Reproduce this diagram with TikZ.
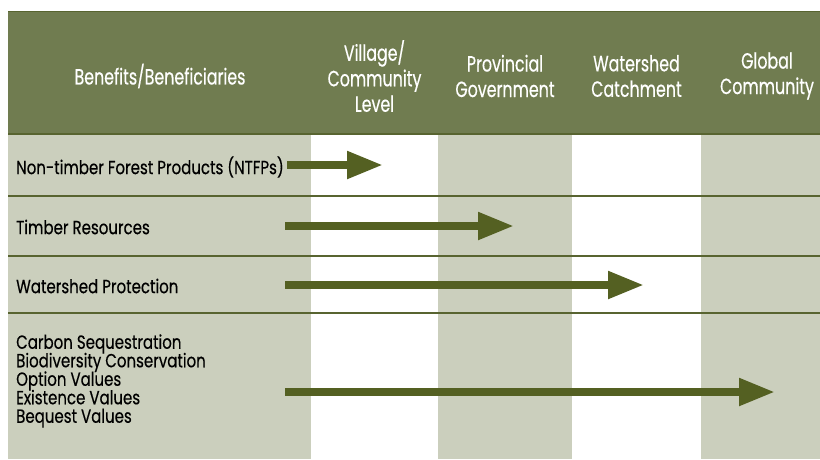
\documentclass[tikz,border=0pt]{standalone}
\usepackage{fontspec}
\setmainfont{Poppins}[FakeStretch=0.72,FakeBold=0.4]
\newfontfamily\rowface{Poppins}[FakeStretch=0.79,FakeBold=0.4]
\usetikzlibrary{arrows.meta}
\definecolor{headgreen}{RGB}{112,124,80}
\definecolor{rulegreen}{RGB}{88,100,48}
\definecolor{cellgray}{RGB}{203,207,189}
\definecolor{arrowgreen}{RGB}{84,96,34}
\newcommand\headfont{\fontsize{22}{25.5}\selectfont\setlength{\lineskiplimit}{-20pt}}
\newcommand\rowfont{\rowface\fontsize{19}{18.5}\selectfont\setlength{\lineskiplimit}{-20pt}}

\begin{document}
\begin{tikzpicture}[x=1pt,y=-1pt,
  headtext/.style={text=white,align=center,inner sep=0pt,font=\headfont},
  rowtext/.style={anchor=west,align=left,inner sep=0pt,font=\rowfont},
  rowline/.style={draw=rulegreen,line width=1.3pt},
  benefit/.style={draw=arrowgreen,line width=8pt,-{Triangle[length=36pt,width=26pt]}}]
\useasboundingbox (0,0) rectangle (820,459);
\fill[headgreen] (8,11) rectangle (820,134);
\fill[cellgray] (8,134) rectangle (311,459);
\fill[cellgray] (438,134) rectangle (572,459);
\fill[cellgray] (701,134) rectangle (820,459);
\coordinate (l0) at (8,11.5); \coordinate (r0) at (820,11.5);
\coordinate (l1) at (8,134); \coordinate (r1) at (820,134);
\coordinate (l2) at (8,196); \coordinate (r2) at (820,196);
\coordinate (l3) at (8,256); \coordinate (r3) at (820,256);
\coordinate (l4) at (8,313); \coordinate (r4) at (820,313);
\draw[rowline] (l0) -- (r0);
\draw[rowline] (l1) -- (r1);
\draw[rowline] (l2) -- (r2);
\draw[rowline] (l3) -- (r3);
\draw[rowline] (l4) -- (r4);
\node (bene) at (160,76) [headtext] {Benefits/Beneficiaries};
\node (village) at (374.5,76) [headtext] {Village/\\Community\\Level};
\node (prov) at (505,76) [headtext] {Provincial\\Government};
\node (shed) at (636.5,76) [headtext] {Watershed\\Catchment};
\node (global) at (767,76) [headtext] {Global\\Community};
\node (ntfp) at (16,167) [rowtext] {Non-timber Forest Products (NTFPs)};
\node (timber) at (16,227) [rowtext] {Timber Resources};
\node (water) at (16,286) [rowtext] {Watershed Protection};
\node (carbon) at (16,381) [rowtext] {Carbon Sequestration\\Biodiversity Conservation\\Option Values\\Existence Values\\Bequest Values};
\coordinate (s1) at (287,165); \coordinate (t1) at (383,165);
\coordinate (s2) at (285,226); \coordinate (t2) at (514,226);
\coordinate (s3) at (285,285); \coordinate (t3) at (644,285);
\coordinate (s4) at (285,392); \coordinate (t4) at (775,392);
\draw[benefit] (s1) -- (t1);
\draw[benefit] (s2) -- (t2);
\draw[benefit] (s3) -- (t3);
\draw[benefit] (s4) -- (t4);
\end{tikzpicture}
\end{document}
